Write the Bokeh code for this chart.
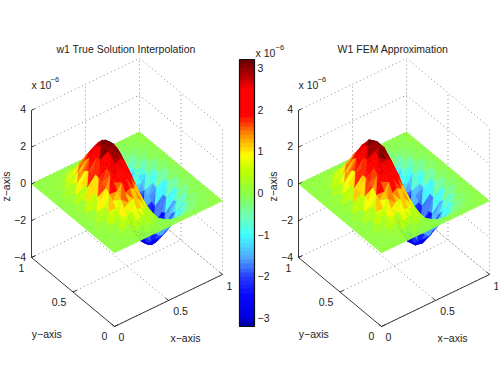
import numpy as np
from bokeh.plotting import figure
from bokeh.models import ColumnDataSource, ColorBar, LinearColorMapper, FixedTicker, Range1d
from bokeh.core.properties import value
from bokeh.embed import file_html
from bokeh.resources import INLINE

TITLES = ["w1 True Solution Interpolation", "W1 FEM Approximation"]
X_TICKS = [0, 0.5, 1]
Y_TICKS = [0, 0.5, 1]
Z_TICKS = [-4, -2, 0, 2, 4]
BAR_TICKS = [-3, -2, -1, 0, 1, 2, 3]
C_LOW, C_HIGH = -3.2, 3.2

# interior nodes of a 24 x 24 mesh, z in units of 1e-6.
# rows = y from 1/24 to 1/2 (the surface is read as even about y = 1/2), columns = x from 1/24 to 23/24
W1_TRUE = [
 [.00,.00,.01,.02,.03,.04,.05,.05,.05,.04,.02,.00,-.02,-.04,-.05,-.05,-.05,-.04,-.03,-.02,-.01,.00,.00],
 [.00,.01,.03,.07,.12,.17,.20,.21,.20,.15,.08,.00,-.08,-.15,-.20,-.21,-.20,-.17,-.12,-.07,-.03,-.01,.00],
 [.00,.02,.07,.16,.26,.36,.44,.47,.44,.34,.18,.00,-.18,-.34,-.44,-.47,-.44,-.36,-.26,-.16,-.07,-.02,.00],
 [.01,.04,.13,.27,.44,.62,.76,.80,.75,.58,.32,.01,-.31,-.58,-.75,-.80,-.75,-.62,-.44,-.27,-.13,-.04,-.01],
 [.01,.06,.19,.40,.66,.92,1.12,1.19,1.10,.85,.47,.00,-.47,-.86,-1.11,-1.19,-1.11,-.92,-.66,-.40,-.19,-.06,-.01],
 [.01,.08,.26,.54,.89,1.25,1.50,1.60,1.49,1.15,.63,.01,-.63,-1.15,-1.49,-1.60,-1.51,-1.24,-.89,-.54,-.26,-.08,-.01],
 [.01,.10,.32,.67,1.12,1.55,1.89,2.01,1.88,1.45,.79,-.01,-.80,-1.45,-1.87,-2.01,-1.89,-1.56,-1.11,-.67,-.32,-.10,-.01],
 [.02,.12,.38,.80,1.33,1.86,2.25,2.40,2.24,1.73,.95,.00,-.95,-1.73,-2.24,-2.40,-2.26,-1.85,-1.33,-.80,-.38,-.12,-.02],
 [.02,.14,.44,.91,1.51,2.11,2.56,2.73,2.54,1.96,1.08,.01,-1.07,-1.97,-2.55,-2.73,-2.56,-2.11,-1.51,-.91,-.44,-.14,-.02],
 [.02,.15,.48,1.00,1.65,2.30,2.80,2.99,2.78,2.15,1.18,.00,-1.18,-2.15,-2.78,-2.99,-2.80,-2.30,-1.65,-1.00,-.48,-.15,-.02],
 [.02,.16,.50,1.05,1.74,2.43,2.95,3.15,2.93,2.26,1.24,-.01,-1.24,-2.26,-2.93,-3.15,-2.95,-2.43,-1.74,-1.05,-.50,-.16,-.02],
 [.02,.17,.51,1.07,1.77,2.47,3.00,3.20,2.98,2.30,1.26,.00,-1.26,-2.30,-2.98,-3.20,-3.00,-2.47,-1.77,-1.07,-.51,-.17,-.02],
]
W1_FEM = [
 [.00,.01,.01,.03,.03,.05,.05,.06,.05,.04,.02,.00,-.02,-.05,-.05,-.06,-.05,-.04,-.03,-.02,-.01,-.01,.00],
 [.00,.01,.04,.07,.13,.16,.21,.21,.19,.16,.08,.01,-.09,-.15,-.20,-.21,-.21,-.16,-.13,-.07,-.04,-.01,.00],
 [.01,.02,.08,.15,.27,.35,.45,.46,.45,.33,.19,.00,-.17,-.35,-.43,-.47,-.45,-.35,-.27,-.15,-.08,-.02,.00],
 [.01,.05,.12,.28,.43,.63,.75,.81,.74,.59,.31,.00,-.32,-.57,-.76,-.79,-.76,-.61,-.45,-.26,-.14,-.04,-.01],
 [.02,.05,.20,.39,.68,.90,1.14,1.18,1.12,.84,.48,-.01,-.46,-.87,-1.09,-1.21,-1.10,-.94,-.64,-.41,-.18,-.07,-.01],
 [.01,.09,.25,.56,.87,1.27,1.48,1.62,1.47,1.17,.61,.01,-.65,-1.13,-1.51,-1.58,-1.53,-1.22,-.91,-.52,-.27,-.08,-.01],
 [.02,.09,.34,.65,1.15,1.52,1.92,1.98,1.91,1.42,.81,.00,-.78,-1.48,-1.84,-2.04,-1.86,-1.59,-1.08,-.69,-.31,-.11,-.01],
 [.01,.13,.36,.83,1.30,1.89,2.22,2.43,2.21,1.76,.92,.01,-.98,-1.70,-2.27,-2.37,-2.29,-1.82,-1.36,-.77,-.40,-.11,-.02],
 [.03,.13,.46,.88,1.54,2.08,2.59,2.70,2.57,1.93,1.11,.00,-1.04,-2.00,-2.52,-2.76,-2.53,-2.14,-1.48,-.94,-.42,-.15,-.02],
 [.01,.16,.46,1.03,1.62,2.33,2.77,3.02,2.75,2.18,1.15,-.01,-1.21,-2.12,-2.81,-2.96,-2.83,-2.27,-1.68,-.97,-.50,-.14,-.02],
 [.03,.15,.52,1.02,1.77,2.40,2.98,3.12,2.96,2.23,1.27,.01,-1.21,-2.29,-2.90,-3.18,-2.92,-2.46,-1.71,-1.08,-.48,-.17,-.02],
 [.02,.18,.49,1.10,1.74,2.50,2.97,3.23,2.95,2.33,1.23,.00,-1.29,-2.27,-3.01,-3.17,-3.03,-2.44,-1.80,-1.04,-.53,-.16,-.02],
]

# colour bar: value (1e-6), then RGB
BAR_Z = [-3.2, -3.0, -2.45, -1.99, -1.56, -1.0, -0.53, 0.0, 0.53, 0.91, 1.15, 1.44, 1.87, 2.47, 3.2]
BAR_R = [0, 0, 8, 40, 80, 64, 112, 140, 192, 255, 255, 255, 255, 255, 100]
BAR_G = [0, 0, 8, 64, 168, 255, 255, 255, 255, 255, 200, 128, 0, 0, 0]
BAR_B = [144, 224, 255, 255, 255, 255, 176, 70, 0, 0, 0, 0, 0, 0, 0]

FONT = value("Liberation Sans")
TXT = "#222222"


def make_palette(n=64):
    lev = C_LOW + (np.arange(n) + 0.5) / n * (C_HIGH - C_LOW)
    r, g, b = np.interp(lev, BAR_Z, BAR_R), np.interp(lev, BAR_Z, BAR_G), np.interp(lev, BAR_Z, BAR_B)
    return ["#%02x%02x%02x" % (int(u), int(v), int(w)) for u, v, w in zip(r, g, b)]


PALETTE = make_palette()
W, H = 498, 385

p = figure(width=W, height=H, toolbar_location=None, output_backend="svg",
           x_range=Range1d(0, W), y_range=Range1d(H, 0), min_border=0,
           outline_line_color=None, x_axis_location=None, y_axis_location=None)
p.xgrid.visible = False
p.ygrid.visible = False


def text(x, y, s, align="center", size="10.5px", angle=0):
    p.text([x], [y], text=[s], text_font=FONT, text_font_size=size, text_color=TXT,
           text_align=align, text_baseline="middle", angle=angle)


def proj(x, y, z, dx):
    return dx + 114 + 108 * x - 83 * y, 326 - 52 * x - 69 * y - 18.4 * (z + 4)


def lab(s):
    return s.replace("-", "\u2212")


def tick(v):
    return lab("%g" % v)


def panel(title, half, dx):
    dotted_x, dotted_y, solid_x, solid_y = [], [], [], []

    def seg(store_x, store_y, a, b):
        pa, pb = proj(*a, dx), proj(*b, dx)
        store_x.append([pa[0], pb[0]])
        store_y.append([pa[1], pb[1]])

    zlo, zhi = Z_TICKS[0], Z_TICKS[-1]
    for z in Z_TICKS:
        seg(dotted_x, dotted_y, (0, 1, z), (1, 1, z))
        seg(dotted_x, dotted_y, (1, 1, z), (1, 0, z))
    for v in X_TICKS[1:]:
        seg(dotted_x, dotted_y, (v, 1, zlo), (v, 1, zhi))
        seg(dotted_x, dotted_y, (v, 0, zlo), (v, 1, zlo))
    for v in Y_TICKS[:-1]:
        seg(dotted_x, dotted_y, (1, v, zlo), (1, v, zhi))
        seg(dotted_x, dotted_y, (0, v, zlo), (1, v, zlo))
    p.multi_line(dotted_x, dotted_y, line_color="#8a8a8a", line_width=1, line_dash="1 3")

    table = half + half[-2::-1]
    n = len(table) + 2
    z = np.zeros((n, n))
    z[1:-1, 1:-1] = np.array(table)
    g = np.linspace(0, 1, n)
    xs, ys, cs = [], [], []
    for j in range(n - 2, -1, -1):
        for k in range(n - 2, -1, -1):
            a, b, c, d = (k, j), (k + 1, j), (k + 1, j + 1), (k, j + 1)
            if (2 * j + k) % 3:
                tris = [(b, c, d), (a, b, d)]
            else:
                tris = [(a, c, d), (a, b, c)]
            for t, tri in enumerate(tris):
                px, py = [], []
                for kk, jj in tri:
                    u, v = proj(g[kk], g[jj], z[jj, kk], dx)
                    px.append(u)
                    py.append(v)
                # flat shading: a triangle takes the colour of one of its corners
                kk, jj = tri[(2 * j + k + t) % 3]
                i = int((z[jj, kk] - C_LOW) / (C_HIGH - C_LOW) * len(PALETTE))
                xs.append(px)
                ys.append(py)
                cs.append(PALETTE[min(max(i, 0), len(PALETTE) - 1)])
    src = ColumnDataSource(dict(xs=xs, ys=ys, c=cs))
    p.patches("xs", "ys", source=src, fill_color="c", line_color="c", line_width=0.4)

    seg(solid_x, solid_y, (0, 1, zlo), (0, 1, zhi))
    seg(solid_x, solid_y, (0, 1, zlo), (0, 0, zlo))
    seg(solid_x, solid_y, (0, 0, zlo), (1, 0, zlo))
    for v in Z_TICKS:
        seg(solid_x, solid_y, (0, 1, v), (0.03, 1, v))
    for v in X_TICKS:
        seg(solid_x, solid_y, (v, 0, zlo), (v, 0.035, zlo))
    for v in Y_TICKS:
        seg(solid_x, solid_y, (0, v, zlo), (0.035, v, zlo))
    p.multi_line(solid_x, solid_y, line_color="#222222", line_width=0.9)

    text(dx + 125.5, 48, title)
    for v in Z_TICKS:
        u, w = proj(0, 1, v, dx)
        text(u - 5.5, w - 1, tick(v), align="right")
    for v, (ox, oy) in zip(Y_TICKS, [(-10, 9), (-14, 10), (-10, 10)]):
        u, w = proj(0, v, zlo, dx)
        text(u + ox, w + oy, tick(v))
    for v, (ox, oy) in zip(X_TICKS, [(7, 10.7), (12, 10.7), (7, 11)]):
        u, w = proj(v, 0, zlo, dx)
        text(u + ox, w + oy, tick(v))
    text(dx + 46.3, 333.3, lab("y-axis"))
    text(dx + 185, 337, lab("x-axis"))
    text(dx + 5.8, 186, lab("z-axis"), angle=np.pi / 2)
    text(dx + 31, 84.3, "x 10", align="left")
    text(dx + 50, 79, lab("-6"), align="left", size="7.5px")


panel(TITLES[0], W1_TRUE, 0)
panel(TITLES[1], W1_FEM, 267)

BAR_LEFT, BAR_W, BAR_BOTTOM, BAR_H = 239, 15, 326, 267
mapper = LinearColorMapper(palette=PALETTE, low=C_LOW, high=C_HIGH)
bar = ColorBar(color_mapper=mapper, ticker=FixedTicker(ticks=BAR_TICKS),
               major_label_overrides={v: tick(v) for v in BAR_TICKS},
               location=(BAR_LEFT, H - BAR_BOTTOM), width=BAR_W, height=BAR_H, padding=0, margin=0,
               major_tick_line_color=None,
               bar_line_color="#111111", bar_line_width=1.2, border_line_color=None,
               background_fill_alpha=0, label_standoff=3,
               major_label_text_font="Liberation Sans", major_label_text_font_size="10.5px",
               major_label_text_color=TXT)
p.add_layout(bar, "center")
tick_y = [BAR_BOTTOM - (v - C_LOW) / (C_HIGH - C_LOW) * BAR_H for v in BAR_TICKS]
p.segment([BAR_LEFT] * len(tick_y), tick_y, [BAR_LEFT + 3] * len(tick_y), tick_y, line_color="#222222", line_width=1)
p.segment([BAR_LEFT + BAR_W - 3] * len(tick_y), tick_y, [BAR_LEFT + BAR_W] * len(tick_y), tick_y, line_color="#222222", line_width=1)
text(255, 52, "x 10", align="left")
text(275, 47, lab("-6"), align="left", size="7.5px")

open("out.html", "w").write(file_html(p, INLINE))
